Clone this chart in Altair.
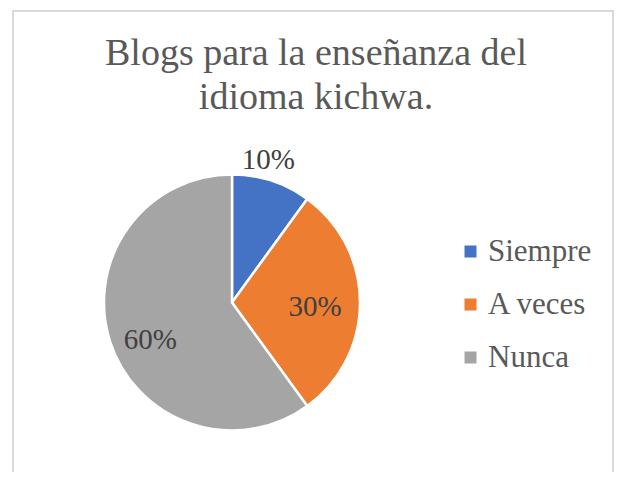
import altair as alt
import pandas as pd

TITLE_LINES = ["Blogs para la enseñanza del", "idioma kichwa."]
CATEGORIES = ["Siempre", "A veces", "Nunca"]
VALUES = [10, 30, 60]
LABELS = ["10%", "30%", "60%"]
COLORS = ["#4472C4", "#ED7D31", "#A5A5A5"]

df = pd.DataFrame({"cat": CATEGORIES, "value": VALUES, "label": LABELS,
                   "order": list(range(len(CATEGORIES)))})

FONT = "Liberation Serif"
CX, CY, R = 224, 294.5, 128

pie = alt.Chart(df).mark_arc(outerRadius=R, stroke="white", strokeWidth=2.5).encode(
    theta=alt.Theta("value:Q", stack=True),
    order=alt.Order("order:Q"),
    color=alt.Color(
        "cat:N",
        scale=alt.Scale(domain=CATEGORIES, range=COLORS),
        sort=CATEGORIES,
        legend=alt.Legend(
            title=None, orient="none", legendX=447, legendY=228,
            symbolType="square", symbolSize=144, symbolStrokeWidth=0,
            labelFont=FONT, labelFontSize=31, labelColor="#595959",
            rowPadding=21, labelOffset=2, labelLimit=300,
        ),
    ),
    x=alt.value(CX),
    y=alt.value(CY),
)

lab_base = alt.Chart(df).transform_window(
    cum="sum(value)", sort=[alt.SortField("order")]
).transform_calculate(mid="datum.cum - datum.value / 2")


def label_layer(cat, radius, dx, dy):
    return lab_base.transform_filter(alt.datum.cat == cat).mark_text(
        font=FONT, fontSize=29, color="#404040", align="center", baseline="middle",
        dx=dx, dy=dy,
    ).encode(
        theta=alt.Theta("mid:Q", scale=alt.Scale(domain=[0, sum(VALUES)])),
        radius=alt.value(radius),
        text="label:N",
        x=alt.value(CX),
        y=alt.value(CY),
    )


labels = [
    label_layer("Siempre", 147, -9, -3),
    label_layer("A veces", 83, 0, 4),
    label_layer("Nunca", 90, 4, 10),
]

title = alt.Chart(pd.DataFrame({"t": ["\n".join(TITLE_LINES)]})).mark_text(
    font=FONT, fontSize=38, color="#595959", align="center", baseline="alphabetic",
    lineBreak="\n", lineHeight=44,
).encode(text="t:N", x=alt.value(308), y=alt.value(57))

BORDER = "#d9d9d9"
border_left = alt.Chart(df).mark_rule(color=BORDER, strokeWidth=2).encode(
    x=alt.value(5), y=alt.value(2), y2=alt.value(464))
border_right = alt.Chart(df).mark_rule(color=BORDER, strokeWidth=2).encode(
    x=alt.value(605), y=alt.value(2), y2=alt.value(464))
border_top = alt.Chart(df).mark_rule(color=BORDER, strokeWidth=2).encode(
    y=alt.value(3), x=alt.value(4), x2=alt.value(606))

chart = alt.layer(
    border_left, border_right, border_top, pie, *labels, title
).resolve_scale(theta="independent").properties(
    width=606, height=464, padding=0, autosize=alt.AutoSizeParams(type="none")
).configure_view(stroke=None)

chart.save("out.html", embed_options={"renderer": "svg", "actions": False})
